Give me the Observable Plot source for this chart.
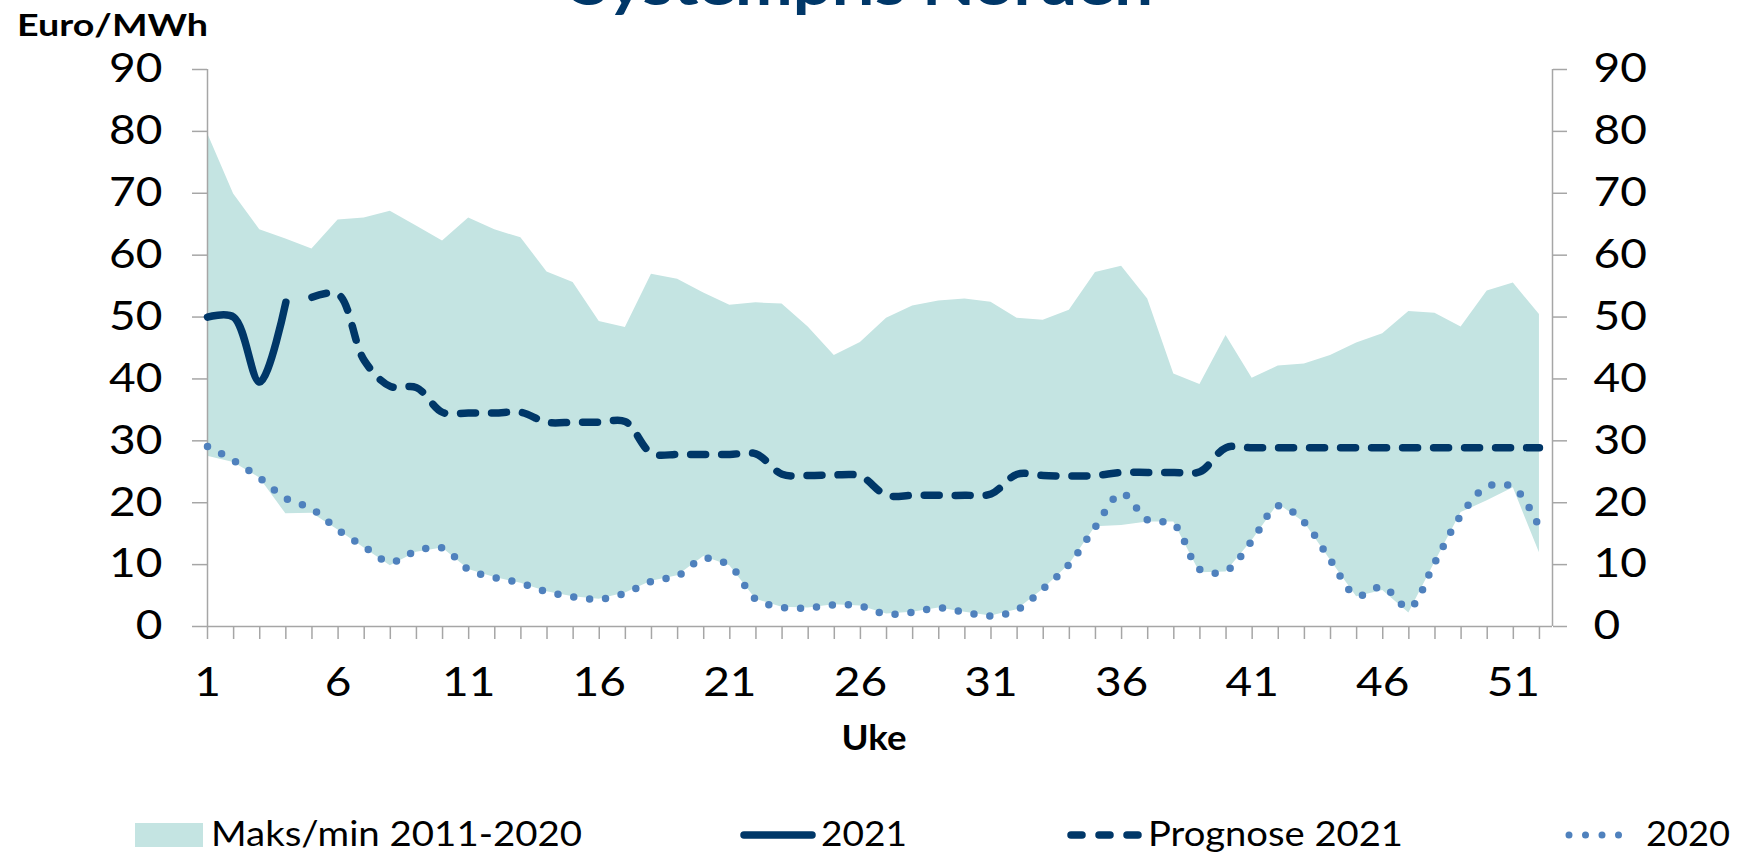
<!DOCTYPE html>
<html>
<head>
<meta charset="utf-8">
<script src="https://cdn.jsdelivr.net/npm/d3@7"></script>
<script src="https://cdn.jsdelivr.net/npm/@observablehq/plot@0.6"></script>
<style>
  html, body { margin: 0; padding: 0; background: #fff; }
  body { width: 1739px; height: 855px; position: relative; overflow: hidden; font-family: Lato, sans-serif; }
  #chart { position: absolute; left: 0; top: 0; }
  #overlay { position: absolute; left: 0; top: 0; pointer-events: none; }
</style>
</head>
<body>
<div id="chart"></div>
<svg id="overlay" width="1739" height="855"></svg>
<script>
// ---- data ----
const weeks = d3.range(1, 53);
const xTickLabels = [1, 6, 11, 16, 21, 26, 31, 36, 41, 46, 51];
const yTicks = [0, 10, 20, 30, 40, 50, 60, 70, 80, 90];

const maxValues = [79.7, 69.9, 64.1, 62.6, 61.0, 65.7, 66.0, 67.1, 64.7, 62.3, 66.0, 64.1, 62.8, 57.3, 55.6, 49.3,
  48.3, 56.9, 56.1, 53.9, 51.9, 52.3, 52.1, 48.4, 43.8, 45.9, 49.8, 51.8, 52.6, 52.9, 52.4, 49.8, 49.5,
  51.1, 57.2, 58.2, 52.9, 40.8, 39.1, 47.0, 40.1, 42.1, 42.4, 43.8, 45.8, 47.3, 50.9, 50.6, 48.4, 54.2, 55.5, 50.4];
const minValues = [27.5, 26.5, 24.0, 18.2, 18.3, 15.6, 12.7, 9.8, 12.0, 12.7, 9.2, 7.9, 7.0, 5.6, 4.8, 4.4,
  5.4, 7.3, 8.2, 11.3, 9.8, 4.4, 3.1, 3.0, 3.5, 3.3, 2.0, 2.3, 3.0, 2.3, 1.7, 2.7, 6.0,
  10.0, 16.1, 16.3, 16.9, 16.9, 8.7, 8.8, 13.9, 19.8, 16.8, 10.7, 4.8, 5.8, 2.2, 10.4, 18.4, 20.3, 22.4, 11.9];
const values2020 = [29.1, 26.8, 24.0, 20.7, 19.0, 15.6, 12.9, 10.4, 12.2, 12.7, 9.2, 7.9, 7.0, 5.6, 4.8, 4.4,
  5.4, 7.3, 8.2, 11.0, 9.8, 4.4, 3.1, 3.0, 3.5, 3.3, 2.0, 2.3, 3.0, 2.3, 1.7, 2.7, 6.1,
  10.1, 16.1, 21.5, 17.2, 16.5, 9.2, 9.0, 13.9, 19.5, 16.8, 10.7, 5.0, 6.4, 3.0, 10.4, 18.0, 22.6, 22.5, 16.0];
const weeks2021 = [1, 2, 3, 4];
const values2021 = [50.0, 50.0, 39.5, 52.4];
const weeksPrognose = d3.range(5, 53);
const valuesPrognose = [53.2, 53.7, 43.0, 38.8, 38.6, 34.6, 34.5, 34.5, 34.6, 33.0, 33.0, 33.0, 33.1,
  28.0, 27.8, 27.8, 27.8, 27.9, 24.6, 24.4, 24.5, 24.3, 21.2, 21.2, 21.2, 21.2, 21.4,
  24.6, 24.4, 24.3, 24.4, 24.9, 24.9, 24.9, 25.0, 28.9,
  28.9, 28.9, 28.9, 28.9, 28.9, 28.9, 28.9, 28.9, 28.9, 28.9, 28.9, 28.9];

const titleText = "Systempris Norden";
const yUnit = "Euro/MWh";
const xTitle = "Uke";
const legendLabels = ["Maks/min 2011-2020", "2021", "Prognose 2021", "2020"];

// ---- styles ----
const bandColor = "#c4e4e2";
const navy = "#003768";
const dotBlue = "#4f81bd";
const axisGray = "#a6a6a6";

const band = weeks.map((w, i) => ({week: w, min: minValues[i], max: maxValues[i]}));
const s2020 = weeks.map((w, i) => ({week: w, value: values2020[i]}));
const s2021 = weeks2021.map((w, i) => ({week: w, value: values2021[i]}));
const sProg = weeksPrognose.map((w, i) => ({week: w, value: valuesPrognose[i]}));

const chart = Plot.plot({
  width: 1739,
  height: 790,
  marginLeft: 207,
  marginRight: 187,
  marginTop: 69,
  marginBottom: 164,
  x: {domain: [1, 52.5]},
  y: {domain: [0, 90]},
  style: {fontFamily: "Lato, sans-serif", fontSize: "40px", color: "#000", background: "transparent", overflow: "visible"},
  marks: [
    Plot.areaY(band, {x: "week", y1: "min", y2: "max", fill: bandColor, curve: "linear"}),
    Plot.ruleY([0], {stroke: axisGray, strokeWidth: 1.5}),
    Plot.ruleX([1], {y1: 0, y2: 90, stroke: axisGray, strokeWidth: 1.5}),
    Plot.ruleX([52.5], {y1: 0, y2: 90, stroke: axisGray, strokeWidth: 1.5}),
    Plot.axisY({anchor: "left", ticks: yTicks, tickSize: 15, tickPadding: 30, stroke: axisGray, strokeWidth: 1.5, fill: "#000", fontSize: 40, label: null}),
    Plot.axisY({anchor: "right", ticks: yTicks, tickSize: 14, tickPadding: 27, stroke: axisGray, strokeWidth: 1.5, fill: "#000", fontSize: 40, label: null}),
    Plot.axisX({ticks: weeks, tickSize: 13, tickFormat: () => "", stroke: axisGray, strokeWidth: 1.5, label: null}),
    Plot.axisX({ticks: xTickLabels, tickSize: 0, tickPadding: 41, fill: "#000", fontSize: 40, label: null}),
    Plot.line(s2020, {x: "week", y: "value", stroke: dotBlue, strokeWidth: 7.5, strokeDasharray: "0 16", strokeLinecap: "round", curve: "catmull-rom"}),
    Plot.line(sProg, {x: "week", y: "value", stroke: navy, strokeWidth: 7.5, strokeDasharray: "15 16", strokeLinecap: "round", curve: "catmull-rom"}),
    Plot.line(s2021, {x: "week", y: "value", stroke: navy, strokeWidth: 7.5, strokeLinecap: "round", curve: "catmull-rom"})
  ]
});
document.getElementById("chart").appendChild(chart);

// widen tick labels slightly (the original uses a horizontally stretched Calibri)
d3.select(chart).selectAll("text").each(function() {
  const len = this.getComputedTextLength();
  if (len > 0) {
    this.setAttribute("textLength", (len * 1.15).toFixed(1));
    this.setAttribute("lengthAdjust", "spacingAndGlyphs");
  }
});

// ---- overlay texts and legend ----
const ov = d3.select("#overlay");
function label(txt, x, y, size, weight, len, anchor, color) {
  ov.append("text").attr("x", x).attr("y", y)
    .attr("font-family", "Lato, sans-serif").attr("font-size", size).attr("font-weight", weight)
    .attr("text-anchor", anchor || "start").attr("fill", color || "#000")
    .attr("textLength", len).attr("lengthAdjust", "spacingAndGlyphs")
    .text(txt);
}
label(titleText, 862, 5, 58, "bold", 582, "middle", navy);
label(yUnit, 17, 36, 31, "bold", 191, "start");
label(xTitle, 874, 750, 35, "bold", 65, "middle");

const ly = 835;
ov.append("rect").attr("x", 135).attr("y", 823).attr("width", 68).attr("height", 24).attr("fill", bandColor);
label(legendLabels[0], 211, 846, 35, "normal", 371, "start");
ov.append("line").attr("x1", 744).attr("x2", 812).attr("y1", ly).attr("y2", ly)
  .attr("stroke", navy).attr("stroke-width", 7.5).attr("stroke-linecap", "round");
label(legendLabels[1], 821, 846, 35, "normal", 86, "start");
ov.append("line").attr("x1", 1071).attr("x2", 1139).attr("y1", ly).attr("y2", ly)
  .attr("stroke", navy).attr("stroke-width", 7.5).attr("stroke-linecap", "round").attr("stroke-dasharray", "11 17");
label(legendLabels[2], 1148, 846, 35, "normal", 255, "start");
ov.append("line").attr("x1", 1569).attr("x2", 1635).attr("y1", ly).attr("y2", ly)
  .attr("stroke", dotBlue).attr("stroke-width", 7).attr("stroke-linecap", "round").attr("stroke-dasharray", "0 16.5");
label(legendLabels[3], 1646, 846, 35, "normal", 84, "start");
</script>
</body>
</html>
